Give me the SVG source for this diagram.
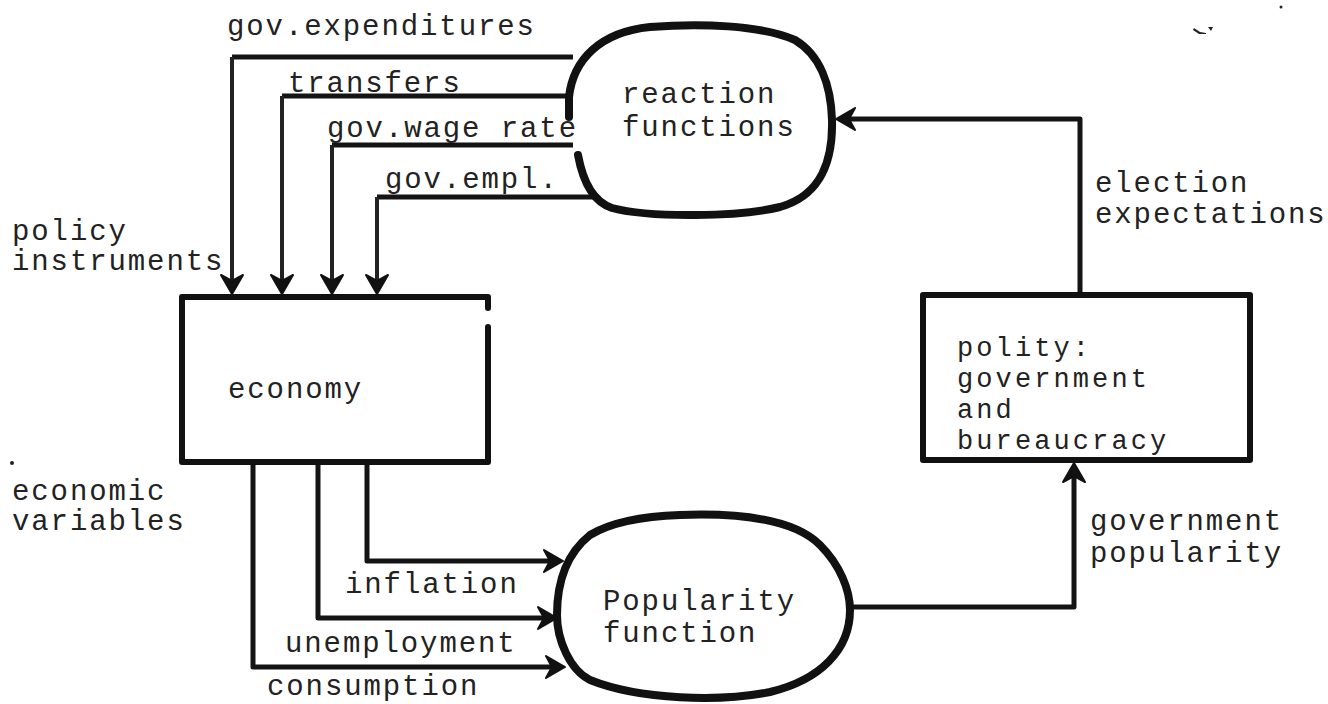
<svg xmlns="http://www.w3.org/2000/svg" width="1328" height="704" viewBox="0 0 1328 704">
  <style>
    text { font-family: "Liberation Mono", "DejaVu Sans Mono", monospace; font-size: 29px; letter-spacing: 1.9px; fill: #222; }
    .tight { font-size: 27px; letter-spacing: 3.1px; }
    .blob { fill: none; stroke: #111; stroke-width: 8; stroke-linecap: round; stroke-linejoin: round; }
    .box { fill: none; stroke: #111; stroke-width: 6; stroke-linejoin: round; stroke-linecap: round; }
    .link { fill: none; stroke: #141414; stroke-width: 5; stroke-linejoin: round; }
    .thin { stroke-width: 4; stroke: #222; }
  </style>
  <defs>
    <marker id="arrow" viewBox="-24 -12 26 24" refX="-12" refY="0" markerWidth="26" markerHeight="24" markerUnits="userSpaceOnUse" orient="auto">
      <path d="M0,0 L-19,-11 L-13,0 L-19,11 Z" fill="#111" stroke="#111" stroke-width="2" stroke-linejoin="round"/>
    </marker>
  </defs>

  <rect width="1328" height="704" fill="#ffffff"/>

  <g id="connectors">
    <!-- policy instruments from reaction functions to economy -->
    <path class="link" d="M573,57 L232,57"/>
    <path class="link thin" d="M232,57 L232,282" marker-end="url(#arrow)"/>
    <path class="link" d="M569,96 L282,96"/>
    <path class="link thin" d="M282,96 L282,282" marker-end="url(#arrow)"/>
    <path class="link" d="M573,145 L332,145"/>
    <path class="link thin" d="M332,145 L332,282" marker-end="url(#arrow)"/>
    <path class="link" d="M594,197 L377,197"/>
    <path class="link thin" d="M377,197 L377,282" marker-end="url(#arrow)"/>
    <!-- economic variables from economy to popularity function -->
    <path class="link" d="M367,462 L367,561 L551,561" marker-end="url(#arrow)"/>
    <path class="link" d="M318,462 L318,618 L545,618" marker-end="url(#arrow)"/>
    <path class="link" d="M253,462 L253,667 L553,667" marker-end="url(#arrow)"/>
    <!-- government popularity -->
    <path class="link" d="M850,607 L1074,607 L1074,475" marker-end="url(#arrow)"/>
    <!-- election expectations -->
    <path class="link" d="M1080,295 L1080,119 L848,119" marker-end="url(#arrow)"/>
  </g>

  <g id="reaction-functions">
    <path class="blob" d="M569,117 L569,97 C573,60 600,32 650,27 C700,23 760,25 795,40 C820,55 831,85 832,120 C833,160 822,195 780,207 C740,217 650,218 612,208 C594,202 583,182 578,155"/>
    <text x="622" y="103">reaction</text>
    <text x="622" y="136">functions</text>
  </g>

  <g id="economy">
    <path class="box" d="M488,308 L488,297 L182,297 L182,462 L488,462 L488,327"/>
    <text x="228" y="398">economy</text>
  </g>

  <g id="popularity-function">
    <path class="blob" d="M680,515 C760,512 800,525 820,545 C840,565 850,590 850,610 C850,650 820,680 770,692 C720,702 640,700 590,680 C570,670 557,640 557,615 C557,585 565,555 590,535 C615,520 650,516 680,515 Z"/>
    <text x="603" y="610">Popularity</text>
    <text x="603" y="642">function</text>
  </g>

  <g id="polity">
    <rect class="box" x="923" y="295" width="327" height="165"/>
    <text class="tight" x="957" y="356">polity:</text>
    <text class="tight" x="957" y="387">government</text>
    <text class="tight" x="957" y="418">and</text>
    <text class="tight" x="957" y="449">bureaucracy</text>
  </g>

  <g id="labels">
    <text x="227" y="35">gov.expenditures</text>
    <text x="288" y="92">transfers</text>
    <text x="327" y="137">gov.wage rate</text>
    <text x="385" y="188">gov.empl.</text>
    <text x="12" y="240">policy</text>
    <text x="12" y="270">instruments</text>
    <text x="12" y="500">economic</text>
    <text x="12" y="530">variables</text>
    <text x="345" y="593">inflation</text>
    <text x="285" y="652">unemployment</text>
    <text x="267" y="695">consumption</text>
    <text x="1095" y="192">election</text>
    <text x="1095" y="223">expectations</text>
    <text x="1090" y="530">government</text>
    <text x="1090" y="562">popularity</text>
  </g>

  <g id="marks" fill="#222" stroke="none">
    <circle cx="12" cy="463" r="2"/>
    <circle cx="1281" cy="7" r="1.5"/>
    <path d="M1194,28 L1200,32 L1206,33 L1206,34 L1199,34 L1193,30 Z"/>
    <path d="M1208,27 L1213,27 L1211,31 Z"/>
  </g>
</svg>
